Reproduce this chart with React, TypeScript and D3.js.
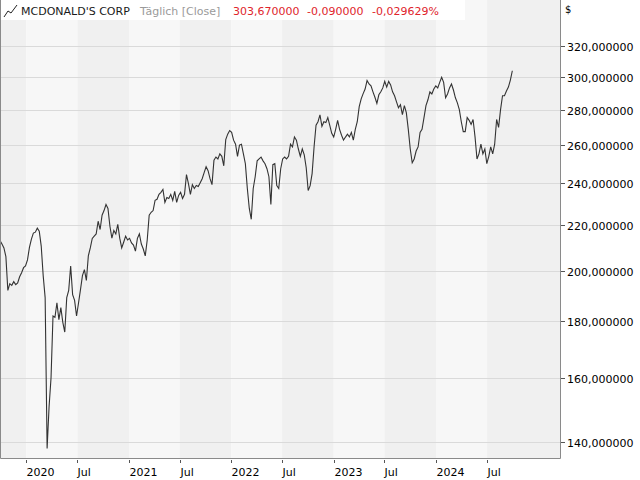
import React, { useEffect, useRef } from "react";
import * as d3 from "d3";

// weekly closes, first week starts 2019-09-29
const startDate = new Date(Date.UTC(2019, 8, 29));
const closes = [
  213, 211.5, 209.8, 206, 192, 194.7, 194, 195.5, 194.3, 195, 197.5, 199.2, 201.3, 202, 204.6, 210,
  213.7, 216.4, 216.8, 218.6, 217.2, 210.6, 198, 189.1, 138, 150.6, 160, 182, 181.5, 187.1, 180.6, 185.2,
  179.6, 176, 189.1, 192, 202, 190.3, 188, 182, 187, 192.3, 198, 200.5, 196, 206.3, 209.8, 214,
  215, 216, 221.8, 218, 224.6, 226.8, 229.7, 227.8, 219.5, 214.1, 217.6, 216, 220.4, 214.1, 209.8, 212.3,
  215, 213.3, 214, 212, 211, 208.4, 214, 216, 211.5, 209.3, 206.3, 213.3, 224.6, 226, 226.8, 231.7,
  232.2, 234.6, 235.6, 237, 230.7, 233.1, 232.6, 234.6, 231.7, 236.1, 230.7, 234.1, 235.6, 232.6, 234.6, 244.5,
  239.9, 234.6, 239.4, 237.5, 239, 238.5, 240.4, 242.4, 245.5, 248.5, 246.5, 242.4, 239.4, 252, 253.6, 252.6,
  255.3, 254, 249, 263, 266, 268, 267, 262.7, 260.5, 254, 260, 260.5, 255.3, 250.1, 237.5, 227.8,
  222.7, 237.5, 243.4, 251.6, 252.6, 253.6, 251.6, 250.1, 247.5, 243.4, 229.7, 249.6, 250.1, 238.9, 237.5, 247.5,
  252.6, 253.6, 252.6, 254, 260.5, 259, 264.5, 262.7, 257.9, 254, 257.9, 254.8, 248, 236.5, 238.9, 245,
  259, 271, 273, 277, 270.4, 273, 272.5, 275.4, 271, 266.5, 264.4, 268.7, 273.8, 268.7, 265.4, 262.7,
  264.4, 266, 264.5, 267, 262.7, 268.7, 273, 281.7, 286.4, 289.5, 292.3, 297.5, 295.4, 294.2, 290.6, 287.3,
  283.7, 288.8, 290.6, 293, 297, 293.5, 297, 294.8, 290.6, 288.2, 284.6, 281.1, 282.9, 277.1, 282.3, 278.2,
  268.7, 257.9, 250.6, 252.6, 256.8, 259, 267, 268.7, 275.4, 282.3, 285.8, 290.6, 289.3, 292.3, 294.2, 293,
  296.4, 299.5, 296.4, 287, 289.3, 293, 295.4, 291.7, 287, 284, 280, 273, 267.4, 267.4, 275.4, 273.8,
  271.5, 274.3, 264.5, 252.6, 255.3, 260.5, 255.3, 257.9, 250.1, 254, 259, 255.3, 260.5, 274.3, 269.8, 280,
  288.2, 288.2, 291.1, 293.5, 297.8, 303.67,
];

const yTicks = [140, 160, 180, 200, 220, 240, 260, 280, 300, 320];
const xTickDates = ["2020-01-01", "2020-07-01", "2021-01-01", "2021-07-01", "2022-01-01", "2022-07-01", "2023-01-01", "2023-07-01", "2024-01-01", "2024-07-01"];
const xTickLabels = ["2020", "Jul", "2021", "Jul", "2022", "Jul", "2023", "Jul", "2024", "Jul"];
// half-year shading, the last band runs to the right edge
const bandStarts = ["2019-07-01", "2020-01-01", "2020-07-01", "2021-01-01", "2021-07-01", "2022-01-01", "2022-07-01", "2023-01-01", "2023-07-01", "2024-01-01", "2024-07-01"];

const title = "MCDONALD'S CORP";
const subtitle = "Täglich [Close]";
const lastValue = "303,670000";
const change = "-0,090000";
const changePct = "-0,029629%";

const W = 640;
const H = 480;
const plotW = 560;
const plotH = 458;

const fmt = (v: number) => d3.format(".6f")(v).replace(".", ",");

export default function App() {
  const svgRef = useRef<SVGSVGElement>(null);

  useEffect(() => {
    const svg = d3.select(svgRef.current);
    svg.selectAll("*").remove();

    const x = d3.scaleUtc()
      .domain([new Date(Date.UTC(2019, 8, 29)), new Date(Date.UTC(2025, 2, 18))])
      .range([0, plotW]);
    const y = d3.scaleLog().domain([135.3, 352]).range([plotH, 0]);

    const data = closes.map((c, i) => ({ date: d3.utcDay.offset(startDate, i * 7), close: c }));

    svg.append("rect").attr("width", W).attr("height", H).attr("fill", "#fff");

    // half-year bands
    const bands = bandStarts.map(d => new Date(d + "T00:00:00Z"));
    bands.forEach((b, i) => {
      const x0 = Math.max(0, x(b));
      const x1 = i + 1 < bands.length ? Math.min(plotW, x(bands[i + 1])) : plotW;
      if (x1 <= x0) return;
      svg.append("rect")
        .attr("x", x0).attr("y", 0)
        .attr("width", x1 - x0).attr("height", plotH)
        .attr("fill", b.getUTCMonth() === 0 ? "#f7f7f7" : "#f0f0f0");
    });

    // gridlines
    svg.append("g").selectAll("line")
      .data(yTicks)
      .join("line")
      .attr("x1", 0).attr("x2", plotW)
      .attr("y1", d => Math.round(y(d)) + 0.5).attr("y2", d => Math.round(y(d)) + 0.5)
      .attr("stroke", "#dadada");

    // price line
    const line = d3.line<{ date: Date; close: number }>()
      .x(d => x(d.date))
      .y(d => y(d.close));
    svg.append("path")
      .datum(data)
      .attr("d", line)
      .attr("fill", "none")
      .attr("stroke", "#333")
      .attr("stroke-width", 1.1);

    // frame
    svg.append("path")
      .attr("d", `M0.5,0 V${plotH + 0.5} H${plotW + 0.5} V0`)
      .attr("fill", "none")
      .attr("stroke", "#8a8a8a");

    // y axis
    const yAxis = svg.append("g").attr("font-family", "DejaVu Sans, sans-serif").attr("font-size", 11);
    yTicks.forEach(t => {
      const yy = Math.round(y(t)) + 0.5;
      yAxis.append("line").attr("x1", plotW + 1).attr("x2", plotW + 5).attr("y1", yy).attr("y2", yy).attr("stroke", "#555");
      yAxis.append("text").attr("x", plotW + 7).attr("y", yy + 4).attr("fill", "#000").text(fmt(t));
    });
    yAxis.append("text").attr("x", plotW + 5).attr("y", 13).attr("font-size", 10).attr("fill", "#000").text("$");

    // x axis
    const xAxis = svg.append("g").attr("font-family", "DejaVu Sans, sans-serif").attr("font-size", 11);
    xTickDates.forEach((d, i) => {
      const xx = Math.round(x(new Date(d + "T00:00:00Z"))) + 0.5;
      xAxis.append("line").attr("x1", xx).attr("x2", xx).attr("y1", plotH + 2).attr("y2", plotH + 5).attr("stroke", "#555");
      xAxis.append("text").attr("x", xx).attr("y", plotH + 18).attr("fill", "#000").text(xTickLabels[i]);
    });

    // header
    const head = svg.append("g").attr("font-family", "DejaVu Sans, sans-serif").attr("font-size", 11);
    head.append("rect").attr("x", 1).attr("y", 0).attr("width", 464).attr("height", 20).attr("fill", "#fff");
    head.append("path")
      .attr("d", "M4,17 L8,11 L11,13 L17,5")
      .attr("fill", "none").attr("stroke", "#222").attr("stroke-width", 1);
    head.append("text").attr("x", 21).attr("y", 15).attr("fill", "#1a1a1a").text(title);
    head.append("text").attr("x", 140).attr("y", 15).attr("fill", "#9a9a9a").text(subtitle);
    head.append("text").attr("x", 233).attr("y", 15).attr("fill", "#e0242c").text(lastValue);
    head.append("text").attr("x", 307).attr("y", 15).attr("fill", "#e0242c").text(change);
    head.append("text").attr("x", 372).attr("y", 15).attr("fill", "#e0242c").text(changePct);
  }, []);

  return (
    <div style={{ position: "fixed", left: 0, top: 0, width: W, height: H }}>
      <svg ref={svgRef} width={W} height={H} />
    </div>
  );
}
